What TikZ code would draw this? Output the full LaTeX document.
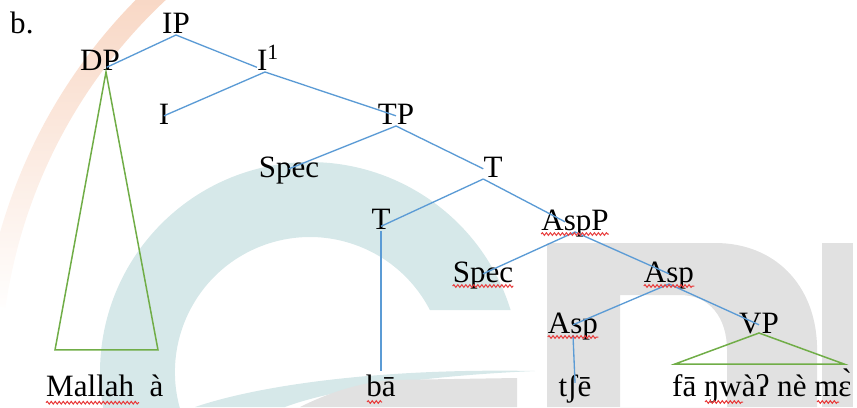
\documentclass[tikz,border=0pt]{standalone}
\usepackage{fontspec}
\setmainfont{Liberation Serif}
\usetikzlibrary{decorations.pathmorphing,fadings}

\definecolor{branchblue}{RGB}{91,155,213}
\definecolor{roofgreen}{RGB}{112,173,71}
\definecolor{logoteal}{RGB}{214,232,233}
\definecolor{logogray}{RGB}{225,225,225}
\definecolor{logopeach}{RGB}{247,208,186}
\definecolor{spellred}{RGB}{232,58,58}

\begin{document}
\begin{tikzpicture}[x=0.3mm,y=-0.3mm,
  lab/.style={font=\fontsize{26.5}{30}\selectfont, inner sep=0pt,
    text height=0.68em, text depth=0.15em, anchor=base},
  branch/.style={branchblue, line width=0.4mm},
  roof/.style={roofgreen, line width=0.45mm},
  squig/.style={spellred, line width=0.3mm, decorate,
    decoration={snake, segment length=1.2mm, amplitude=0.4mm}}]

\useasboundingbox (0,0) rectangle (857,407);

% faded logo behind the tree
\begin{scope}
\clip (0,0) rectangle (857,407);
\draw[logopeach, line width=6.3mm, path fading=south]
  (216,-54.2) arc[start angle=-125, end angle=-172, radius=530];
\fill[logoteal] (510.6,310) arc[start angle=-17.2, end angle=-200, radius=210]
  -- (183.1,418.2) arc[start angle=-200, end angle=-27.3, radius=135] -- cycle;
\fill[logoteal] (195,407) .. controls (260,385) and (380,368) .. (535,371)
  .. controls (420,376) and (330,390) .. (285,407) -- cycle;
\fill[logogray] (300,407) .. controls (330,392) and (360,383) .. (390,380)
  -- (517,378) -- (517,407) -- cycle;
\fill[logogray, even odd rule] (547,243) -- (715,243) .. controls (775,243) and (815,285) .. (817,345)
  -- (817,407) -- (547,407) -- cycle
  (620,295) -- (680,295) .. controls (710,295) and (727,318) .. (727,350)
  -- (727,407) -- (620,407) -- cycle;
\fill[logogray] (822,243) rectangle (853,407);
\end{scope}

% labels
\node[lab, anchor=base west] (ex) at (10,33) {b.};
\node[lab] (ip) at (176,33) {IP};
\node[lab] (dp) at (100,70) {DP};
\node[lab] (ibar) at (268,70) {I\textsuperscript{1}};
\node[lab] (i) at (164,124) {I};
\node[lab] (tp) at (396,124) {TP};
\node[lab] (spec1) at (289,177) {Spec};
\node[lab] (tbar) at (493,177) {T};
\node[lab] (t) at (381,229) {T};
\node[lab] (aspp) at (575,230) {AspP};
\node[lab] (spec2) at (483,282) {Spec};
\node[lab] (aspbar) at (669,282) {Asp};
\node[lab] (asp) at (573,333) {Asp};
\node[lab] (vp) at (759,333) {VP};
\node[lab, anchor=base west] (mallah) at (46,396) {Mallah\ \ à};
\node[lab] (ba) at (381,396) {bā};
\node[lab] (tse) at (575,396) {tʃē};
\node[lab, anchor=base west] (vpwords) at (672,396) {fā ŋwàʔ nè mɛ̀};

% branches
\draw[branch] (ip.south) -- ([xshift=2mm]dp.mid);
\draw[branch] (ip.south) -- (ibar.mid west);
\draw[branch] ([xshift=-0.9mm]ibar.south) -- (i.north);
\draw[branch] ([xshift=-0.9mm]ibar.south) -- (tp.north);
\draw[branch] (tp.south) -- (spec1.north);
\draw[branch] (tp.south) -- (tbar.north west);
\draw[branch] (tbar.south west) -- (t.mid);
\draw[branch] (tbar.south west) -- ([xshift=-3mm]aspp.north);
\draw[branch] (t.south) -- ([yshift=5mm]ba.north);
\draw[branch] (aspp.south) -- (spec2.north);
\draw[branch] (aspp.south) -- (aspbar.north);
\draw[branch] (aspbar.south) -- (asp.north);
\draw[branch] (aspbar.south) -- (vp.north);
\draw[branch] (asp.south) -- ([yshift=1.5mm]tse.north);

% triangles
\draw[roof] ([xshift=1.8mm]dp.south) -- ++(-51,278) -- ++(103,0) -- cycle;
\draw[roof] (vp.base) -- ++(-84,31) -- ++(169,0) -- cycle;

% spelling marks
\draw[squig] ([yshift=-2mm]mallah.base west) -- ++(93,0);
\draw[squig] ([shift={(-14,6)}]ba.base) -- ++(15,0);
\draw[squig] ([yshift=-1.2mm]spec2.base west) -- (spec2.base east |- 0,286);
\draw[squig] ([yshift=-1.2mm]aspp.base west) -- ([yshift=-1.2mm]aspp.base east);
\draw[squig] ([yshift=-1.2mm]aspbar.base west) -- ([yshift=-1.2mm]aspbar.base east);
\draw[squig] ([yshift=-1.2mm]asp.base west) -- ([yshift=-1.2mm]asp.base east);
\draw[squig] ([shift={(33,6)}]vpwords.base west) -- ++(38,0);
\draw[squig] ([shift={(145,6)}]vpwords.base west) -- ++(22,0);

\end{tikzpicture}
\end{document}
